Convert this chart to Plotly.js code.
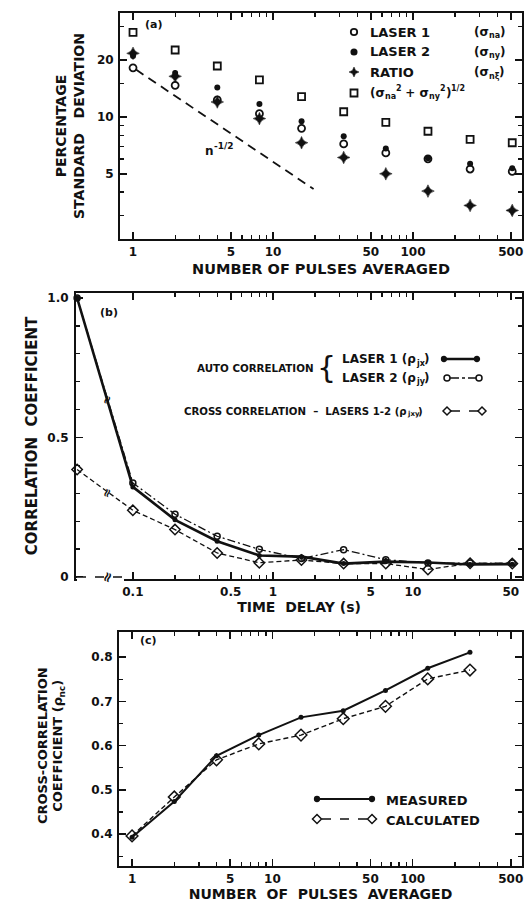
<!DOCTYPE html>
<html><head><meta charset="utf-8">
<script src="https://cdn.plot.ly/plotly-3.0.1.min.js"></script>
<style>html,body{margin:0;padding:0;background:#fff}</style>
</head><body><div id="chart" style="width:529px;height:904px"></div>
<script>
// ---------- Panel (a): percentage standard deviation vs pulses averaged ----------
const pulsesA   = [1, 2, 4, 8, 16, 32, 64, 128, 256, 512];
const laser1SD  = [18.2, 14.7, 12.3, 10.4, 8.7, 7.2, 6.45, 6.0, 5.3, 5.15];
const laser2SD  = [21.0, 17.1, 14.3, 11.7, 9.5, 7.9, 6.8, 6.05, 5.65, 5.35];
const ratioSD   = [21.7, 16.4, 12.0, 9.8, 7.3, 6.1, 5.0, 4.05, 3.4, 3.2];
const quadSumSD = [28.0, 22.6, 18.6, 15.7, 12.8, 10.65, 9.35, 8.4, 7.6, 7.3];
const refLineN  = [1.05, 19.5];
const refLineSD = [17.8, 4.15];

// ---------- Panel (b): correlation coefficient vs time delay ----------
const delays     = [0, 0.1, 0.2, 0.4, 0.8, 1.6, 3.2, 6.4, 12.8, 25.6, 51.2];
const autoLaser1 = [1.0, 0.323, 0.205, 0.128, 0.077, 0.073, 0.048, 0.055, 0.052, 0.045, 0.046];
const autoLaser2 = [1.0, 0.337, 0.225, 0.146, 0.099, 0.066, 0.098, 0.062, 0.050, 0.050, 0.050];
const crossCorr  = [0.385, 0.239, 0.170, 0.086, 0.051, 0.061, 0.048, 0.048, 0.027, 0.049, 0.048];

// ---------- Panel (c): cross-correlation coefficient vs pulses averaged ----------
const pulsesC    = [1, 2, 4, 8, 16, 32, 64, 128, 256];
const measured   = [0.393, 0.474, 0.577, 0.624, 0.664, 0.679, 0.725, 0.775, 0.811];
const calculated = [0.396, 0.484, 0.568, 0.604, 0.624, 0.661, 0.689, 0.751, 0.771];

// tick labels
const pulseTicks = [1, 5, 10, 50, 100, 500];
const pulseMinor = [2,3,4,6,7,8,9,20,30,40,60,70,80,90,200,300,400];
const sdTicks = [5, 10, 20];
const sdMinor = [3, 4, 6, 7, 8, 9, 15, 30];
const delayTicks = [0.1, 0.5, 1, 5, 10, 50];
const delayTickText = ['0.1', '0.5', '1', '5', '10', '50'];
const delayMinor = [0.2,0.3,0.4,0.6,0.7,0.8,0.9,2,3,4,6,7,8,9,20,30,40];
const corrTicks = [0, 0.5, 1.0];
const corrTickText = ['0', '0.5', '1.0'];
const corrMinor = [0.1,0.2,0.3,0.4,0.6,0.7,0.8,0.9];
const ccTicks = [0.4, 0.5, 0.6, 0.7, 0.8];
const ccMinor = [0.35, 0.45, 0.55, 0.65, 0.75];

// ---------- layout helpers ----------
const W = 529, H = 904;
const fx = p => p / W;
const fy = p => 1 - p / H;
const FAM = 'DejaVu Sans';
const FONT = 'DejaVu Sans, Liberation Sans, Arial, sans-serif';
const INK = '#111';
const ZERO_DELAY_POS = 0.04;   // axis position used for the zero-delay points (left of the axis break)
const xDelay = delays.map(d => d === 0 ? ZERO_DELAY_POS : d);

function axisBase(extra) {
  return Object.assign({
    showline: true, linewidth: 2, linecolor: INK, mirror: 'ticks',
    ticks: 'inside', ticklen: 7, tickwidth: 1.6, tickcolor: INK,
    showgrid: false, zeroline: false, tickmode: 'array',
    tickfont: {size: 12, family: FONT, color: INK, weight: 'bold'}
  }, extra);
}
function minorTicks(vals) {
  return {tickmode: 'array', tickvals: vals, ticks: 'inside', ticklen: 4, tickwidth: 1.3, tickcolor: INK, showgrid: false};
}

const traces = [
  // (a)
  {x: pulsesA, y: laser1SD, xaxis: 'x', yaxis: 'y', mode: 'markers', name: 'LASER 1',
   marker: {symbol: 'circle-open', size: 7, color: INK, line: {width: 1.8, color: INK}}, cliponaxis: false},
  {x: pulsesA, y: laser2SD, xaxis: 'x', yaxis: 'y', mode: 'markers', name: 'LASER 2',
   marker: {symbol: 'circle', size: 6, color: INK}, cliponaxis: false},
  {x: pulsesA, y: ratioSD, xaxis: 'x', yaxis: 'y', mode: 'markers', name: 'RATIO',
   marker: {symbol: 'star-diamond', size: 9, color: INK, line: {width: 0.5, color: INK}}, cliponaxis: false},
  {x: pulsesA, y: quadSumSD, xaxis: 'x', yaxis: 'y', mode: 'markers', name: 'quadrature sum',
   marker: {symbol: 'square-open', size: 7, color: INK, line: {width: 1.8, color: INK}}, cliponaxis: false},
  {x: refLineN, y: refLineSD, xaxis: 'x', yaxis: 'y', mode: 'lines', name: 'n^-1/2',
   line: {color: INK, width: 1.8, dash: '9px,6px'}},
  // (b)
  {x: xDelay, y: autoLaser2, xaxis: 'x2', yaxis: 'y2', mode: 'lines+markers', name: 'LASER 2 auto',
   line: {color: INK, width: 1.3, dash: '8px,3px,2px,3px'},
   marker: {symbol: 'circle-open', size: 6, color: INK, line: {width: 1.5, color: INK}}, cliponaxis: false},
  {x: xDelay, y: crossCorr, xaxis: 'x2', yaxis: 'y2', mode: 'lines+markers', name: 'CROSS',
   line: {color: INK, width: 1.3, dash: '5px,3px'},
   marker: {symbol: 'diamond-open', size: 8, color: INK, line: {width: 1.5, color: INK}}, cliponaxis: false},
  {x: xDelay, y: autoLaser1, xaxis: 'x2', yaxis: 'y2', mode: 'lines+markers', name: 'LASER 1 auto',
   line: {color: INK, width: 2.6},
   marker: {symbol: 'circle', size: 5, color: INK}, cliponaxis: false},
  // (c)
  {x: pulsesC, y: calculated, xaxis: 'x3', yaxis: 'y3', mode: 'lines+markers', name: 'CALCULATED',
   line: {color: INK, width: 1.4, dash: '5px,3px'},
   marker: {symbol: 'diamond-open', size: 9, color: INK, line: {width: 1.5, color: INK}}, cliponaxis: false},
  {x: pulsesC, y: measured, xaxis: 'x3', yaxis: 'y3', mode: 'lines+markers', name: 'MEASURED',
   line: {color: INK, width: 2},
   marker: {symbol: 'circle', size: 5, color: INK}, cliponaxis: false}
];

const pulseRange = [-0.093, 2.779];
const layout = {
  width: W, height: H,
  margin: {l: 0, r: 0, t: 0, b: 0},
  paper_bgcolor: '#fff', plot_bgcolor: '#fff',
  font: {family: FONT, size: 12, color: INK, weight: 'bold'},
  showlegend: false,
  xaxis: axisBase({domain: [fx(120), fx(522)], anchor: 'y', type: 'log', range: pulseRange, ticklabelstandoff: 1,
    tickvals: pulseTicks, ticktext: pulseTicks.map(String), minor: minorTicks(pulseMinor),
    title: {text: 'NUMBER OF PULSES AVERAGED', font: {size: 14.5, family: FONT, weight: 'bold'}, standoff: 5}}),
  yaxis: axisBase({domain: [fy(239), fy(13)], anchor: 'x', type: 'log', range: [0.354, 1.550], ticklabelstandoff: 2,
    tickvals: sdTicks, ticktext: sdTicks.map(String), minor: minorTicks(sdMinor),
    title: {text: 'PERCENTAGE<br>STANDARD\u00a0\u00a0\u00a0DEVIATION', font: {size: 14, family: FONT, weight: 'bold'}, standoff: 9}}),
  xaxis2: axisBase({domain: [fx(76), fx(522)], anchor: 'y2', type: 'log', ticklabelstandoff: 1,
    range: [Math.log10(ZERO_DELAY_POS) - 0.008, 1.779],
    tickvals: delayTicks, ticktext: delayTickText, minor: minorTicks(delayMinor),
    title: {text: 'TIME\u00a0\u00a0DELAY (s)', font: {size: 14, family: FONT, weight: 'bold'}, standoff: 4}}),
  yaxis2: axisBase({domain: [fy(579), fy(293)], anchor: 'x2', range: [-0.0072, 1.018], ticklabelstandoff: 3,
    tickvals: corrTicks, ticktext: corrTickText, minor: minorTicks(corrMinor),
    title: {text: 'CORRELATION\u00a0\u00a0COEFFICIENT', font: {size: 15, family: FONT, weight: 'bold'}, standoff: 6}}),
  xaxis3: axisBase({domain: [fx(119), fx(522)], anchor: 'y3', type: 'log', range: pulseRange, ticklabelstandoff: 1,
    tickvals: pulseTicks, ticktext: pulseTicks.map(String), minor: minorTicks(pulseMinor),
    title: {text: 'NUMBER\u00a0\u00a0OF\u00a0\u00a0PULSES\u00a0\u00a0AVERAGED', font: {size: 14, family: FONT, weight: 'bold'}, standoff: 4}}),
  yaxis3: axisBase({domain: [fy(866), fy(632)], anchor: 'x3', range: [0.328, 0.857], ticklabelstandoff: 2,
    tickvals: ccTicks, ticktext: ccTicks.map(v => v.toFixed(1)), minor: minorTicks(ccMinor)}),
  annotations: [],
  shapes: []
};

const ann = layout.annotations, shp = layout.shapes;
const ctx = document.createElement('canvas').getContext('2d');
function tw(s, size) { ctx.font = `bold ${size}px "${FAM}"`; return ctx.measureText(s).width; }
function note(text, x, y, size, xanchor, extra) {
  ann.push(Object.assign({text: text, x: fx(x), y: fy(y), xref: 'paper', yref: 'paper', showarrow: false,
    borderpad: 0, borderwidth: 0,
    xanchor: xanchor || 'left', yanchor: 'middle', font: {size: size, family: FONT, color: INK, weight: 'bold'}}, extra || {}));
}
// text made of pieces of different sizes (subscripts / superscripts), laid out by measured widths
// parts: [text, size, shift(px, positive = downward in the text frame)]
function rich(parts, x, y, align, rotate) {
  const ps = parts.map(p => [p[0].replace(/ /g, '\u00a0'), p[1], p[2] || 0]);
  const widths = ps.map(p => tw(p[0], p[1]));
  const total = widths.reduce((a, b) => a + b, 0);
  let cur = align === 'center' ? -total / 2 : 0;
  ps.forEach((p, i) => {
    if (!rotate) {
      note(p[0], x + cur, y + p[2], p[1], 'left');
    } else {
      note(p[0], x + p[2], y - (cur + widths[i] / 2), p[1], 'center', {textangle: -90});
    }
    cur += widths[i];
  });
}
function circ(cx, cy, r, filled, lw) {
  shp.push({type: 'circle', xref: 'paper', yref: 'paper', x0: fx(cx - r), x1: fx(cx + r), y0: fy(cy + r), y1: fy(cy - r),
    line: {color: INK, width: lw || 1.5}, fillcolor: filled ? INK : '#fff', layer: 'above'});
}
function poly(pts, filled, lw) {
  const d = pts.map((p, i) => (i ? 'L' : 'M') + fx(p[0]) + ',' + fy(p[1])).join(' ') + ' Z';
  shp.push({type: 'path', xref: 'paper', yref: 'paper', layer: 'above', path: d,
    line: {color: INK, width: lw || 1.5}, fillcolor: filled ? INK : '#fff'});
}
function diam(cx, cy, r) { poly([[cx - r, cy], [cx, cy - r], [cx + r, cy], [cx, cy + r]], false); }
function seg(x0, y0, x1, y1, width, dash, color) {
  shp.push({type: 'line', xref: 'paper', yref: 'paper', x0: fx(x0), y0: fy(y0), x1: fx(x1), y1: fy(y1),
    line: {color: color || INK, width: width, dash: dash || 'solid'}, layer: 'above'});
}

// panel labels
note('(a)', 145, 25, 11);
note('(b)', 100, 312, 11);
note('(c)', 140, 640, 11);
rich([['n', 12, 0], ['-1/2', 9, -5]], 205, 151, 'left');

// panel (a) legend
circ(354, 32, 3.2, false, 1.8);
circ(354, 52, 2.8, true);
poly([[354, 67], [355.6, 70.4], [359, 72], [355.6, 73.6], [354, 77], [352.4, 73.6], [349, 72], [352.4, 70.4]], true, 0.5);
poly([[350.5, 89.5], [357.5, 89.5], [357.5, 96.5], [350.5, 96.5]], false, 1.8);
note('LASER 1', 370, 32, 13);
note('LASER 2', 370, 52, 13);
note('RATIO', 370, 72, 13);
rich([['(σ', 12, 0], ['na', 8, 4], ['2', 8, -5], [' + σ', 12, 0], ['ny', 8, 4], ['2', 8, -5], [')', 12, 0], ['1/2', 8, -5]], 370, 93, 'left');
rich([['(σ', 12, 0], ['na', 8, 4], [')', 12, 0]], 474, 32, 'left');
rich([['(σ', 12, 0], ['ny', 8, 4], [')', 12, 0]], 474, 52, 'left');
rich([['(σ', 12, 0], ['nξ', 8, 4], [')', 12, 0]], 474, 72, 'left');

// panel (b) legend
note('AUTO CORRELATION', 197, 368, 10.3);
note('{', 326, 368, 30, 'center', {font: {size: 30, family: FAM, color: INK, weight: 'normal'}});
rich([['LASER 1 (ρ', 12, 0], ['jx', 8, 4], [')', 12, 0]], 342, 359, 'left');
rich([['LASER 2 (ρ', 12, 0], ['jy', 8, 4], [')', 12, 0]], 342, 378, 'left');
rich([['CROSS CORRELATION  –  LASERS 1-2 (ρ', 10.2, 0], ['jxy', 7, 3], [')', 10.2, 0]], 184, 411, 'left');
seg(444, 359, 477, 359, 2.6); circ(444, 359, 2.4, true); circ(477, 359, 2.4, true);
seg(450, 378, 476, 378, 1.3, 'dashdot'); circ(447, 378, 3, false); circ(479, 378, 3, false);
seg(451, 411, 478, 411, 1.3, 'dash'); diam(447, 411, 4); diam(482, 411, 4);

// panel (b) axis break
seg(77, 579, 124, 579, 4, 'solid', '#fff');
seg(77, 577, 124, 577, 1.3, 'dash');
note('≈', 107, 577, 14, 'center', {textangle: -70});
note('≈', 107, 400, 12, 'center', {textangle: -70});
note('≈', 107, 493, 12, 'center', {textangle: -70});

// panel (c) y-axis title
note('CROSS-CORRELATION', 42, 746, 13, 'center', {textangle: -90});
rich([['COEFFICIENT (ρ', 13, 0], ['nc', 9, 4], [')', 13, 0]], 58, 746, 'center', true);

// panel (c) legend
seg(317, 799, 372, 799, 2); circ(317, 799, 2.4, true); circ(372, 799, 2.4, true);
seg(322, 819, 367, 819, 1.3, 'dash'); diam(317, 819, 4.5); diam(372, 819, 4.5);
note('MEASURED', 386, 800, 13);
note('CALCULATED', 386, 820, 13);

Plotly.newPlot('chart', traces, layout, {displayModeBar: false, staticPlot: true});
</script>
</body></html>
